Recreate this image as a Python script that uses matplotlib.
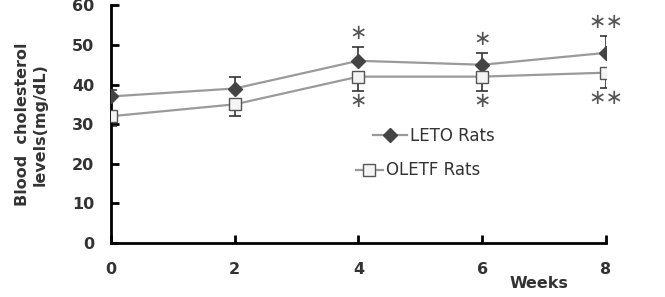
import numpy as np
import matplotlib.pyplot as plt

weeks = [0, 2, 4, 6, 8]
leto = [37, 39, 46, 45, 48]
leto_err = [1.5, 3, 3.5, 3, 4.3]
oletf = [32, 35, 42, 42, 43]
oletf_err = [2.5, 3, 3.6, 3.6, 3.8]
sig_above = ['', '', '*', '*', '**']
sig_below = ['', '', '*', '*', '**']

plt.rcParams['font.family'] = 'DejaVu Sans'

fig = plt.figure(figsize=(6.65, 2.97), dpi=100)
ax = fig.add_axes([0.167, 0.182, 0.744, 0.80])

line_col = '#9a9a9a'
txt_col = '#333333'
# error bars: LETO upward, OLETF downward
ax.errorbar(weeks, leto, yerr=[np.zeros(5), leto_err], fmt='none',
            ecolor=txt_col, elinewidth=1.2, capsize=4, capthick=1.2, zorder=2)
ax.errorbar(weeks, oletf, yerr=[oletf_err, np.zeros(5)], fmt='none',
            ecolor=txt_col, elinewidth=1.2, capsize=4, capthick=1.2, zorder=2)

l1, = ax.plot(weeks, leto, color=line_col, lw=1.6, marker='D', ms=7,
              mfc='#444444', mec='#444444', zorder=3)
l2, = ax.plot(weeks, oletf, color=line_col, lw=1.6, marker='s', ms=9,
              mfc='#f4f4f4', mec='#555555', mew=1, zorder=3)

# significance marks
for x, y, e, s in zip(weeks, leto, leto_err, sig_above):
    if s:
        ax.text(x, y + e + 3.6, s.replace('*', '\u2217'), ha='center',
                va='center', fontsize=15, color='#555555')
for x, y, e, s in zip(weeks, oletf, oletf_err, sig_below):
    if s:
        ax.text(x, y - e - 2.6, s.replace('*', '\u2217'), ha='center',
                va='center', fontsize=15, color='#555555')

ax.set_xlim(0, 8)
ax.set_ylim(0, 60)
ax.set_xticks([0, 2, 4, 6, 8])
ax.set_yticks(range(0, 61, 10))
ax.spines['top'].set_visible(False)
ax.spines['right'].set_visible(False)
ax.spines['left'].set_linewidth(2)
ax.spines['bottom'].set_linewidth(2)
ax.tick_params(axis='both', direction='in', length=6, width=2,
               labelsize=11.5, labelcolor=txt_col)
ax.tick_params(axis='x', pad=14)
ax.tick_params(axis='y', pad=12)
for lbl in ax.get_xticklabels() + ax.get_yticklabels():
    lbl.set_fontweight('bold')

ax.set_ylabel('Blood  cholesterol\nlevels(mg/dL)', fontsize=11.5,
              fontweight='bold', color=txt_col, labelpad=18, linespacing=1.15)
fig.text(0.81, 0.03, 'Weeks', fontsize=11.5, fontweight='bold',
         color=txt_col, ha='center')

leg1 = ax.legend([l1], ['LETO Rats'], loc='center left',
                 bbox_to_anchor=(0.5, 0.45), frameon=False, fontsize=12,
                 handlelength=2.0, handletextpad=0.2, labelcolor=txt_col)
ax.add_artist(leg1)
ax.legend([l2], ['OLETF Rats'], loc='center left',
          bbox_to_anchor=(0.465, 0.305), frameon=False, fontsize=12,
          handlelength=1.6, handletextpad=0.2, labelcolor=txt_col)

fig.savefig('out.png', dpi=100)
